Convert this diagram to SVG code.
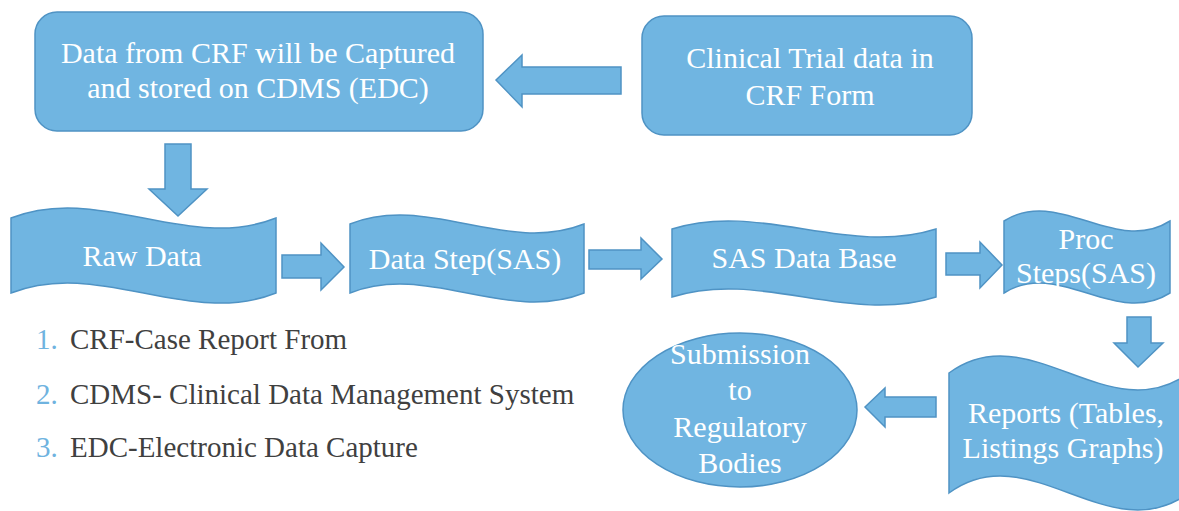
<svg xmlns="http://www.w3.org/2000/svg" width="1179" height="511" viewBox="0 0 1179 511">
<defs>
<style>
.shape{fill:#70b5e1;stroke:#4f93c4;stroke-width:1.5}
.lbl{font-family:'Liberation Serif','Times New Roman',serif;font-size:30px;fill:#ffffff;text-anchor:middle}
.note{font-family:'Liberation Serif','Times New Roman',serif;font-size:29px;fill:#404040}
.num{fill:#6fb3df}
</style>
</defs>
<rect width="1179" height="511" fill="#ffffff"/>
<g id="connectors">
<polygon class="shape" points="496,80 522,55 522,67 621,67 621,94 522,94 522,107"/>
<polygon class="shape" points="165,144 191,144 191,189 207,189 178,216 149,189 165,189"/>
<polygon class="shape" points="282,255 321,255 321,243 344,267 321,290 321,278 282,278"/>
<polygon class="shape" points="589,250 641,250 641,238 662,259 641,279 641,269 589,269"/>
<polygon class="shape" points="946,253 980,253 980,242 1002,265 980,288 980,275 946,275"/>
<polygon class="shape" points="1127,317 1151,317 1151,343 1163,343 1138,367 1114,343 1127,343"/>
<polygon class="shape" points="865,407 885,388 885,397 936,397 936,417 885,417 885,427"/>
</g>
<g id="node-capture">
<rect class="shape" x="35" y="12" width="448" height="119" rx="22"/>
<text class="lbl" x="258" y="63">Data from CRF will be Captured</text>
<text class="lbl" x="258" y="98">and stored on CDMS (EDC)</text>
</g>
<g id="node-crf">
<rect class="shape" x="642" y="16" width="330" height="119" rx="22"/>
<text class="lbl" x="810" y="68">Clinical Trial data in</text>
<text class="lbl" x="810" y="105">CRF Form</text>
</g>
<g id="node-raw">
<path class="shape" d="M11,218 C99,183 188,253 276,218 L276,293 C188,328 99,258 11,293 Z"/>
<text class="lbl" x="142" y="266">Raw Data</text>
</g>
<g id="node-datastep">
<path class="shape" d="M350,224 C428,193 506,255 584,224 L584,293 C506,324 428,262 350,293 Z"/>
<text class="lbl" x="465" y="269">Data Step(SAS)</text>
</g>
<g id="node-sasdb">
<path class="shape" d="M672,229 C760,201 848,257 936,229 L936,297 C848,325 760,269 672,297 Z"/>
<text class="lbl" x="804" y="268">SAS Data Base</text>
</g>
<g id="node-proc">
<path class="shape" d="M1004,221 C1059,186 1115,256 1170,221 L1170,293 C1115,328 1059,258 1004,293 Z"/>
<text class="lbl" x="1086" y="249">Proc</text>
<text class="lbl" x="1086" y="283">Steps(SAS)</text>
</g>
<g id="node-reports">
<path class="shape" d="M949,373 C1029,314 1109,432 1189,373 L1189,493 C1109,552 1029,434 949,493 Z"/>
<text class="lbl" x="1066" y="423">Reports (Tables,</text>
<text class="lbl" x="1063" y="458">Listings Graphs)</text>
</g>
<g id="node-submission">
<ellipse class="shape" cx="740" cy="410" rx="117" ry="77"/>
<text class="lbl" x="740" y="364">Submission</text>
<text class="lbl" x="740" y="400">to</text>
<text class="lbl" x="740" y="437">Regulatory</text>
<text class="lbl" x="740" y="473">Bodies</text>
</g>
<g id="notes">
<text class="note" x="36" y="349"><tspan class="num">1.</tspan><tspan x="70">CRF-Case Report From</tspan></text>
<text class="note" x="36" y="404"><tspan class="num">2.</tspan><tspan x="70">CDMS- Clinical Data Management System</tspan></text>
<text class="note" x="36" y="457"><tspan class="num">3.</tspan><tspan x="70">EDC-Electronic Data Capture</tspan></text>
</g>
</svg>
